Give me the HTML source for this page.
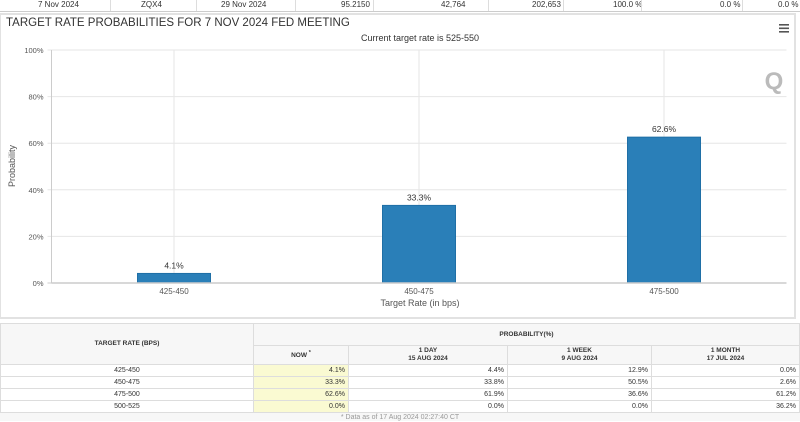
<!DOCTYPE html>
<html><head><meta charset="utf-8"><style>
body{margin:0;width:800px;height:421px;overflow:hidden;background:#fff;font-family:"Liberation Sans",sans-serif;position:relative}
.strip{position:absolute;left:0;top:0;width:800px;height:11px;font-size:8px;color:#333;border-bottom:1px solid #ccc}
.strip span{position:absolute;top:0;line-height:10px}
.sep{position:absolute;top:0;height:11px;border-left:1px solid #ddd}
.panel{position:absolute;left:0;top:13px;width:796px;height:306px;border:2px solid #e2e2e2;border-left:1px solid #e2e2e2;box-sizing:border-box}
table{position:absolute;left:0;top:323px;width:800px;border-collapse:collapse;font-size:7px;color:#333}
td,th{border:1px solid #ddd;padding:0 3px;height:11px;line-height:11px}
th{background:#f7f7f7;font-weight:bold;font-size:6.5px;text-align:center;line-height:8px}
td{text-align:right}
td.c{text-align:center}
td.now{background:#fafad2}
.foot{position:absolute;top:413px;left:0;width:800px;text-align:center;font-size:7px;color:#999;background:#f7f7f7;height:8px;line-height:9px}
</style></head><body>
<div class="strip">
<span style="left:38px">7 Nov 2024</span><div class="sep" style="left:110px"></div>
<span style="left:141px">ZQX4</span><div class="sep" style="left:196px"></div>
<span style="left:221px">29 Nov 2024</span><div class="sep" style="left:295px"></div>
<span style="left:341px">95.2150</span><div class="sep" style="left:373px"></div>
<span style="left:441px">42,764</span><div class="sep" style="left:488px"></div>
<span style="left:532px">202,653</span><div class="sep" style="left:563px"></div>
<span style="left:613px">100.0 %</span><div class="sep" style="left:641px"></div>
<span style="left:720px">0.0 %</span><div class="sep" style="left:742px"></div>
<span style="left:778px">0.0 %</span>
</div>
<div class="panel"></div>
<svg id="chart" width="800" height="320" style="position:absolute;left:0;top:0" font-family="'Liberation Sans',sans-serif">
<text x="6" y="26" font-size="11.5" fill="#333">TARGET RATE PROBABILITIES FOR 7 NOV 2024 FED MEETING</text>
<text x="420" y="41" font-size="9" fill="#333" text-anchor="middle">Current target rate is 525-550</text>
<g fill="#555"><rect x="779" y="24" width="10" height="1.6"/><rect x="779" y="27.5" width="10" height="1.6"/><rect x="779" y="31" width="10" height="1.6"/></g>
<text x="774" y="89" font-size="24" font-weight="bold" fill="#bbb" text-anchor="middle">Q</text>
<text transform="translate(15,166) rotate(-90)" font-size="9" fill="#555" text-anchor="middle">Probability</text>
<text x="420" y="306" font-size="9" fill="#555" text-anchor="middle">Target Rate (in bps)</text>
<g id="g"></g>
</svg>
<table>
<tr><th rowspan="2" style="width:246px;height:40px">TARGET RATE (BPS)</th><th colspan="4" style="height:21px">PROBABILITY(%)</th></tr>
<tr><th style="width:88px;height:18px">NOW <sup>*</sup></th><th style="width:152px">1 DAY<br>15 AUG 2024</th><th style="width:137px">1 WEEK<br>9 AUG 2024</th><th>1 MONTH<br>17 JUL 2024</th></tr>
<tr><td class="c">425-450</td><td class="now">4.1%</td><td>4.4%</td><td>12.9%</td><td>0.0%</td></tr>
<tr><td class="c">450-475</td><td class="now">33.3%</td><td>33.8%</td><td>50.5%</td><td>2.6%</td></tr>
<tr><td class="c">475-500</td><td class="now">62.6%</td><td>61.9%</td><td>36.6%</td><td>61.2%</td></tr>
<tr><td class="c">500-525</td><td class="now">0.0%</td><td>0.0%</td><td>0.0%</td><td>36.2%</td></tr>
</table>
<div class="foot">* Data as of 17 Aug 2024 02:27:40 CT</div>
<script>
const categories=["425-450","450-475","475-500"];
const values=[4.1,33.3,62.6];
const yTicks=[0,20,40,60,80,100];
const NS="http://www.w3.org/2000/svg";
const gEl=document.getElementById('g');
const plotL=51.5,plotR=786.5,plotT=50,plotB=283;
const bw=(plotR-plotL)/categories.length;
const xPos=i=>plotL+bw*(i+0.5);
const yPos=v=>plotB-(plotB-plotT)*v/100;
function mk(t,a){const e=document.createElementNS(NS,t);for(const k in a)e.setAttribute(k,a[k]);gEl.appendChild(e);return e;}
yTicks.forEach(t=>{
 const l=mk('line',{x1:plotL-4,x2:plotR,y1:yPos(t),y2:yPos(t),stroke:t?'#e6e6e6':'#ccc','stroke-width':1});
 
 
 const tx=mk('text',{x:plotL-8,y:yPos(t)+3,'font-size':7.5,fill:'#555','text-anchor':'end'});
 tx.textContent=t+'%';
 
 
});
mk('line',{x1:plotL,x2:plotL,y1:plotT,y2:plotB,stroke:'#ccc'});
categories.forEach((c,i)=>{
 const gl=mk('line',{x1:xPos(i),x2:xPos(i),y1:plotT,y2:plotB,stroke:'#e6e6e6'});
 
 
 const b=mk('rect',{x:xPos(i)-36.5,y:yPos(values[i]),width:73,height:plotB-yPos(values[i]),fill:'#2a7fb8',stroke:'#1f6fa6','stroke-width':1});
 
 
 const v=mk('text',{x:xPos(i),y:yPos(values[i])-5,'font-size':8.5,fill:'#333','text-anchor':'middle'});
 v.textContent=values[i].toFixed(1)+'%';
 
 
 const t=mk('text',{x:xPos(i),y:plotB+11,'font-size':8,fill:'#555','text-anchor':'middle'});
 t.textContent=c;
 
 
});
const ax=mk('line',{x1:plotL,x2:plotR,y1:plotB,y2:plotB,stroke:'#ccc','stroke-width':1.5});


</script>
</body></html>
